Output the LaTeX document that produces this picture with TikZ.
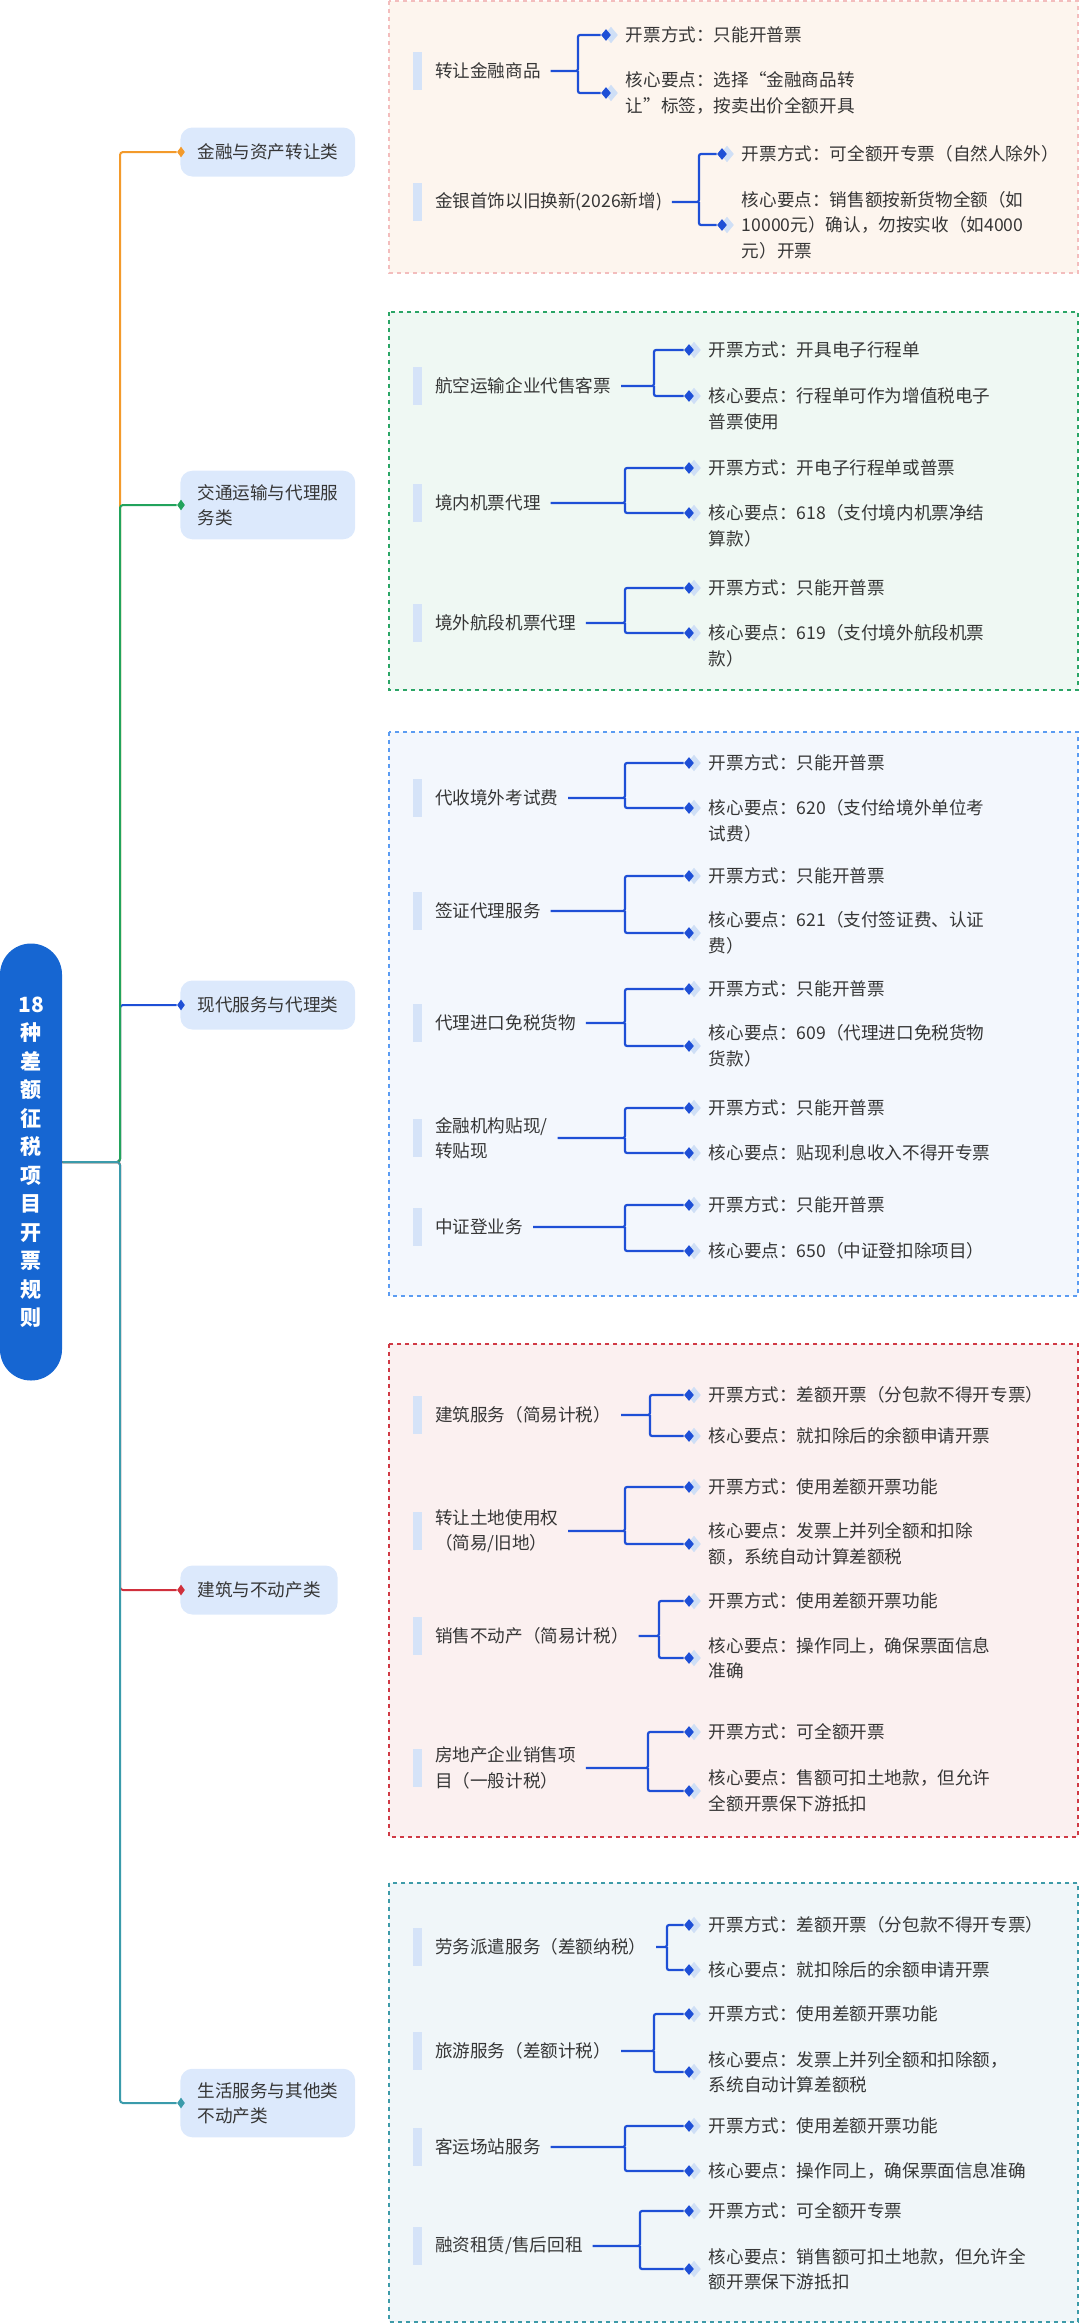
\documentclass[tikz,border=0pt]{standalone}
\usepackage{fontspec}
\setmainfont{Noto Sans CJK SC}
\usetikzlibrary{positioning,shapes.geometric}

\definecolor{rootblue}{HTML}{1666D2}
\definecolor{catfill}{HTML}{DCE9FC}
\definecolor{barblue}{HTML}{D5E3F8}
\definecolor{linkblue}{HTML}{1E4FD6}
\definecolor{halo}{HTML}{CFDFF6}
\definecolor{txt}{HTML}{363636}
\definecolor{brorange}{HTML}{F39A2B}
\definecolor{brgreen}{HTML}{22A35C}
\definecolor{brblue}{HTML}{1E4FD6}
\definecolor{brred}{HTML}{D0303C}
\definecolor{brteal}{HTML}{3A9BAB}
\definecolor{galine}{HTML}{F3BDBD}
\definecolor{gafill}{HTML}{FDF5EE}
\definecolor{gbline}{HTML}{2BA566}
\definecolor{gbfill}{HTML}{EFF8F3}
\definecolor{gcline}{HTML}{5B9CF2}
\definecolor{gcfill}{HTML}{F3F7FD}
\definecolor{gdline}{HTML}{D03A45}
\definecolor{gdfill}{HTML}{FBF0F0}
\definecolor{geline}{HTML}{3E9BA9}
\definecolor{gefill}{HTML}{F0F6F9}

\begin{document}
\begin{tikzpicture}[x=0.5pt, y=-0.5pt,
        every node/.style={font=\fontsize{8.8pt}{12.75pt}\selectfont, text=txt},
        root/.style={fill=rootblue, text=white, rounded corners=15.5pt, minimum width=31pt, minimum height=218.5pt, inner sep=0, align=center, font=\fontsize{10.5pt}{14.25pt}\selectfont\bfseries},
        cat/.style={fill=catfill, rounded corners=6pt, anchor=west, align=left, inner xsep=8.5pt, inner ysep=6.8pt, minimum height=24.5pt, font=\fontsize{8.8pt}{12.5pt}\selectfont},
        catdot/.style={diamond, fill=#1, inner sep=0, minimum width=4pt, minimum height=5.5pt},
        item/.style={anchor=west, align=left, inner sep=0, outer xsep=5pt, label={[bar]west:}},
        bar/.style={fill=barblue, minimum width=4.5pt, minimum height=19pt, inner sep=0, outer sep=0, label distance=1.5pt},
        leaf/.style={align=left, inner sep=0},
        tipdot/.style={diamond, fill=linkblue, inner sep=0, minimum width=5pt, minimum height=6pt, preaction={fill=halo, draw=halo, line width=1.5pt, transform canvas={xshift=2.5pt}}},
        br/.style={line width=1pt, rounded corners=1.5pt},
        link/.style={draw=linkblue, line width=1.1pt, rounded corners=1pt},
        grp/.style={line width=1pt, dash pattern=on 2pt off 2pt}]
        \useasboundingbox (0,0) rectangle (1080,2324);

        \draw[grp, draw=galine, fill=gafill] (389,1) rectangle (1078,273);
        \draw[grp, draw=gbline, fill=gbfill] (389,312) rectangle (1078,690);
        \draw[grp, draw=gcline, fill=gcfill] (389,732) rectangle (1078,1296);
        \draw[grp, draw=gdline, fill=gdfill] (389,1344) rectangle (1078,1837);
        \draw[grp, draw=geline, fill=gefill] (389,1883) rectangle (1078,2322);

        \node[root] (root) at (31,1162) {18\\种\\差\\额\\征\\税\\项\\目\\开\\票\\规\\则};
        \coordinate (tk) at (120,1162);

        \node[cat] (c1) at (180,152) {金融与资产转让类};
        \node[cat] (c2) at (180,505) {交通运输与代理服\\务类};
        \node[cat] (c3) at (180,1005) {现代服务与代理类};
        \node[cat] (c4) at (180,1590) {建筑与不动产类};
        \node[cat] (c5) at (180,2103) {生活服务与其他类\\不动产类};
        \node[catdot=brorange] (m1) at (181,152) {};
        \node[catdot=brgreen] (m2) at (181,505) {};
        \node[catdot=brblue] (m3) at (181,1005) {};
        \node[catdot=brred] (m4) at (181,1590) {};
        \node[catdot=brteal] (m5) at (181,2103) {};

        \draw[br, brorange] (root) -- (tk) |- (m1.west);
        \draw[br, brblue] (root) -- (tk) |- (m3.west);
        \draw[br, brgreen] (root) -- (tk) |- (m2.west);
        \draw[br, brred] (root) -- (tk) |- (m4.west);
        \draw[br, brteal] (root) -- (tk) |- (m5.west);

        \node[item] (i11) at (425,71) {转让金融商品};
        \coordinate (j11) at (578,71);
        \node[tipdot] (d11a) at (606,35) {};
        \node[tipdot] (d11b) at (606,93) {};
        \node[leaf, right=7pt of d11a] (t11a) {开票方式：只能开普票};
        \node[leaf, right=7pt of d11b] (t11b) {核心要点：选择“金融商品转\\让”标签，按卖出价全额开具};
        \draw[link] (i11) -- (j11) |- (d11a.west) (j11) |- (d11b.west);

        \node[item] (i12) at (425,202) {金银首饰以旧换新(2026新增)};
        \coordinate (j12) at (699,202);
        \node[tipdot] (d12a) at (722,154) {};
        \node[tipdot] (d12b) at (722,225) {};
        \node[leaf, right=7pt of d12a] (t12a) {开票方式：可全额开专票（自然人除外）};
        \node[leaf, right=7pt of d12b] (t12b) {核心要点：销售额按新货物全额（如\\10000元）确认，勿按实收（如4000\\元）开票};
        \draw[link] (i12) -- (j12) |- (d12a.west) (j12) |- (d12b.west);

        \node[item] (i21) at (425,386) {航空运输企业代售客票};
        \coordinate (j21) at (654,386);
        \node[tipdot] (d21a) at (689,350) {};
        \node[tipdot] (d21b) at (689,396) {};
        \node[leaf, right=7pt of d21a] (t21a) {开票方式：开具电子行程单};
        \node[leaf, right=7pt of d21b, yshift=-6.4pt] (t21b) {核心要点：行程单可作为增值税电子\\普票使用};
        \draw[link] (i21) -- (j21) |- (d21a.west) (j21) |- (d21b.west);

        \node[item] (i22) at (425,503) {境内机票代理};
        \coordinate (j22) at (625,503);
        \node[tipdot] (d22a) at (689,468) {};
        \node[tipdot] (d22b) at (689,513) {};
        \node[leaf, right=7pt of d22a] (t22a) {开票方式：开电子行程单或普票};
        \node[leaf, right=7pt of d22b, yshift=-6.4pt] (t22b) {核心要点：618（支付境内机票净结\\算款）};
        \draw[link] (i22) -- (j22) |- (d22a.west) (j22) |- (d22b.west);

        \node[item] (i23) at (425,623) {境外航段机票代理};
        \coordinate (j23) at (625,623);
        \node[tipdot] (d23a) at (689,588) {};
        \node[tipdot] (d23b) at (689,633) {};
        \node[leaf, right=7pt of d23a] (t23a) {开票方式：只能开普票};
        \node[leaf, right=7pt of d23b, yshift=-6.4pt] (t23b) {核心要点：619（支付境外航段机票\\款）};
        \draw[link] (i23) -- (j23) |- (d23a.west) (j23) |- (d23b.west);

        \node[item] (i31) at (425,798) {代收境外考试费};
        \coordinate (j31) at (625,798);
        \node[tipdot] (d31a) at (689,763) {};
        \node[tipdot] (d31b) at (689,808) {};
        \node[leaf, right=7pt of d31a] (t31a) {开票方式：只能开普票};
        \node[leaf, right=7pt of d31b, yshift=-6.4pt] (t31b) {核心要点：620（支付给境外单位考\\试费）};
        \draw[link] (i31) -- (j31) |- (d31a.west) (j31) |- (d31b.west);

        \node[item] (i32) at (425,911) {签证代理服务};
        \coordinate (j32) at (625,911);
        \node[tipdot] (d32a) at (689,876) {};
        \node[tipdot] (d32b) at (689,933) {};
        \node[leaf, right=7pt of d32a] (t32a) {开票方式：只能开普票};
        \node[leaf, right=7pt of d32b] (t32b) {核心要点：621（支付签证费、认证\\费）};
        \draw[link] (i32) -- (j32) |- (d32a.west) (j32) |- (d32b.west);

        \node[item] (i33) at (425,1023) {代理进口免税货物};
        \coordinate (j33) at (625,1023);
        \node[tipdot] (d33a) at (689,989) {};
        \node[tipdot] (d33b) at (689,1046) {};
        \node[leaf, right=7pt of d33a] (t33a) {开票方式：只能开普票};
        \node[leaf, right=7pt of d33b] (t33b) {核心要点：609（代理进口免税货物\\货款）};
        \draw[link] (i33) -- (j33) |- (d33a.west) (j33) |- (d33b.west);

        \node[item] (i34) at (425,1138) {金融机构贴现/\\转贴现};
        \coordinate (j34) at (625,1138);
        \node[tipdot] (d34a) at (689,1108) {};
        \node[tipdot] (d34b) at (689,1153) {};
        \node[leaf, right=7pt of d34a] (t34a) {开票方式：只能开普票};
        \node[leaf, right=7pt of d34b] (t34b) {核心要点：贴现利息收入不得开专票};
        \draw[link] (i34) -- (j34) |- (d34a.west) (j34) |- (d34b.west);

        \node[item] (i35) at (425,1227) {中证登业务};
        \coordinate (j35) at (625,1227);
        \node[tipdot] (d35a) at (689,1205) {};
        \node[tipdot] (d35b) at (689,1251) {};
        \node[leaf, right=7pt of d35a] (t35a) {开票方式：只能开普票};
        \node[leaf, right=7pt of d35b] (t35b) {核心要点：650（中证登扣除项目）};
        \draw[link] (i35) -- (j35) |- (d35a.west) (j35) |- (d35b.west);

        \node[item] (i41) at (425,1415) {建筑服务（简易计税）};
        \coordinate (j41) at (650,1415);
        \node[tipdot] (d41a) at (689,1395) {};
        \node[tipdot] (d41b) at (689,1436) {};
        \node[leaf, right=7pt of d41a] (t41a) {开票方式：差额开票（分包款不得开专票）};
        \node[leaf, right=7pt of d41b] (t41b) {核心要点：就扣除后的余额申请开票};
        \draw[link] (i41) -- (j41) |- (d41a.west) (j41) |- (d41b.west);

        \node[item] (i42) at (425,1531) {转让土地使用权\\（简易/旧地）};
        \coordinate (j42) at (625,1531);
        \node[tipdot] (d42a) at (689,1487) {};
        \node[tipdot] (d42b) at (689,1544) {};
        \node[leaf, right=7pt of d42a] (t42a) {开票方式：使用差额开票功能};
        \node[leaf, right=7pt of d42b] (t42b) {核心要点：发票上并列全额和扣除\\额，系统自动计算差额税};
        \draw[link] (i42) -- (j42) |- (d42a.west) (j42) |- (d42b.west);

        \node[item] (i43) at (425,1636) {销售不动产（简易计税）};
        \coordinate (j43) at (659,1636);
        \node[tipdot] (d43a) at (689,1601) {};
        \node[tipdot] (d43b) at (689,1658) {};
        \node[leaf, right=7pt of d43a] (t43a) {开票方式：使用差额开票功能};
        \node[leaf, right=7pt of d43b] (t43b) {核心要点：操作同上，确保票面信息\\准确};
        \draw[link] (i43) -- (j43) |- (d43a.west) (j43) |- (d43b.west);

        \node[item] (i44) at (425,1768) {房地产企业销售项\\目（一般计税）};
        \coordinate (j44) at (648,1768);
        \node[tipdot] (d44a) at (689,1732) {};
        \node[tipdot] (d44b) at (689,1791) {};
        \node[leaf, right=7pt of d44a] (t44a) {开票方式：可全额开票};
        \node[leaf, right=7pt of d44b] (t44b) {核心要点：售额可扣土地款，但允许\\全额开票保下游抵扣};
        \draw[link] (i44) -- (j44) |- (d44a.west) (j44) |- (d44b.west);

        \node[item] (i51) at (425,1947) {劳务派遣服务（差额纳税）};
        \coordinate (j51) at (667,1947);
        \node[tipdot] (d51a) at (689,1925) {};
        \node[tipdot] (d51b) at (689,1970) {};
        \node[leaf, right=7pt of d51a] (t51a) {开票方式：差额开票（分包款不得开专票）};
        \node[leaf, right=7pt of d51b] (t51b) {核心要点：就扣除后的余额申请开票};
        \draw[link] (i51) -- (j51) |- (d51a.west) (j51) |- (d51b.west);

        \node[item] (i52) at (425,2051) {旅游服务（差额计税）};
        \coordinate (j52) at (654,2051);
        \node[tipdot] (d52a) at (689,2014) {};
        \node[tipdot] (d52b) at (689,2072) {};
        \node[leaf, right=7pt of d52a] (t52a) {开票方式：使用差额开票功能};
        \node[leaf, right=7pt of d52b] (t52b) {核心要点：发票上并列全额和扣除额，\\系统自动计算差额税};
        \draw[link] (i52) -- (j52) |- (d52a.west) (j52) |- (d52b.west);

        \node[item] (i53) at (425,2147) {客运场站服务};
        \coordinate (j53) at (625,2147);
        \node[tipdot] (d53a) at (689,2126) {};
        \node[tipdot] (d53b) at (689,2171) {};
        \node[leaf, right=7pt of d53a] (t53a) {开票方式：使用差额开票功能};
        \node[leaf, right=7pt of d53b] (t53b) {核心要点：操作同上，确保票面信息准确};
        \draw[link] (i53) -- (j53) |- (d53a.west) (j53) |- (d53b.west);

        \node[item] (i54) at (425,2246) {融资租赁/售后回租};
        \coordinate (j54) at (640,2246);
        \node[tipdot] (d54a) at (689,2211) {};
        \node[tipdot] (d54b) at (689,2269) {};
        \node[leaf, right=7pt of d54a] (t54a) {开票方式：可全额开专票};
        \node[leaf, right=7pt of d54b] (t54b) {核心要点：销售额可扣土地款，但允许全\\额开票保下游抵扣};
        \draw[link] (i54) -- (j54) |- (d54a.west) (j54) |- (d54b.west);
    \end{tikzpicture}
\end{document}
